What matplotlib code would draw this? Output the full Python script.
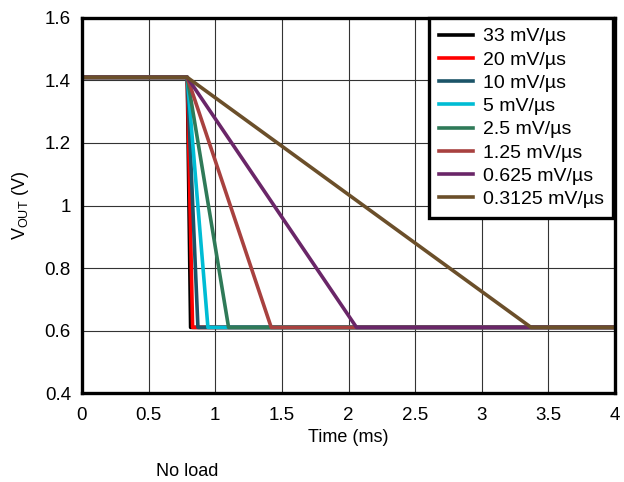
import matplotlib
matplotlib.use("Agg")
import matplotlib.pyplot as plt

plt.rcParams['font.family'] = ['Liberation Sans', 'DejaVu Sans']

labels = ["33 mV/µs", "20 mV/µs", "10 mV/µs", "5 mV/µs", "2.5 mV/µs",
          "1.25 mV/µs", "0.625 mV/µs", "0.3125 mV/µs"]
colors = ["#000000", "#ff0000", "#1b5468", "#00bcd4", "#2f7a58",
          "#a8413f", "#6a2668", "#6b4f2a"]
v_start = 1.41
v_end = 0.61
t_ramp_start = 0.79
t_ramp_end = [0.815, 0.83, 0.87, 0.945, 1.10, 1.42, 2.06, 3.37]
t_stop = 4.0

fig = plt.figure(figsize=(6.24, 4.82), dpi=100)
ax = fig.add_axes([0.1314, 0.1846, 0.9856 - 0.1314, 0.9627 - 0.1846])

for i, (lab, c, te) in enumerate(zip(labels, colors, t_ramp_end)):
    ax.plot([0, t_ramp_start, te, t_stop], [v_start, v_start, v_end, v_end],
            color=c, lw=2.6, label=lab, zorder=2 + i)

ax.set_xlim(0, 4)
ax.set_ylim(0.4, 1.6)
ax.set_xticks([0, 0.5, 1, 1.5, 2, 2.5, 3, 3.5, 4])
ax.set_xticklabels(["0", "0.5", "1", "1.5", "2", "2.5", "3", "3.5", "4"])
ax.set_yticks([0.4, 0.6, 0.8, 1.0, 1.2, 1.4, 1.6])
ax.set_yticklabels(["0.4", "0.6", "0.8", "1", "1.2", "1.4", "1.6"])
ax.grid(True, color="#333333", lw=0.8)
ax.tick_params(length=0, labelsize=13.5)
ax.tick_params(axis="x", pad=10)
ax.tick_params(axis="y", pad=8)
for s in ax.spines.values():
    s.set_linewidth(2.4)
    s.set_zorder(20)

ax.set_xlabel("Time (ms)", fontsize=13, labelpad=4)
ax.set_ylabel(r"V$_{\mathregular{OUT}}$ (V)", fontsize=13, labelpad=10)

leg = ax.legend(loc="upper right", bbox_to_anchor=(0.997, 1.0), borderaxespad=0,
                fontsize=14, handlelength=1.75, handletextpad=0.5,
                labelspacing=0.29, fancybox=False, framealpha=1,
                edgecolor="black", borderpad=0.5)
leg.get_frame().set_linewidth(2.4)
leg.set_zorder(30)

fig.text(187 / 624, 1 - 471 / 482, "No load", fontsize=13, ha="center", va="center")

fig.savefig("out.png", dpi=100)
